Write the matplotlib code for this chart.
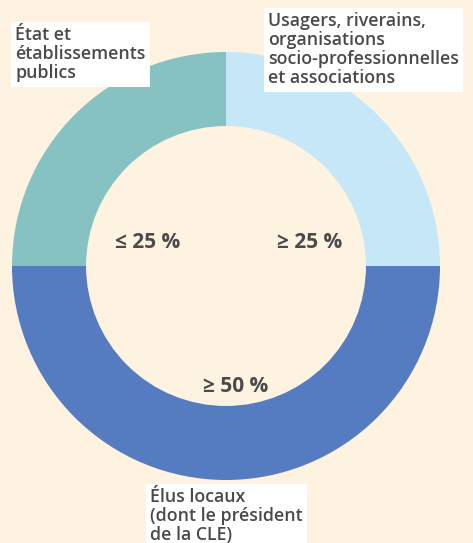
import matplotlib.pyplot as plt

categories = ["Usagers, riverains,\norganisations\nsocio-professionnelles\net associations",
              "État et\nétablissements\npublics",
              "Élus locaux\n(dont le président\nde la CLE)"]
values = [25, 25, 50]
pct_labels = ["≥ 25 %", "≤ 25 %", "≥ 50 %"]
colors = ["#C6E7F8", "#86C2C1", "#557BC0"]

W, H = 473, 543
fig = plt.figure(figsize=(W/100, H/100), dpi=100)
bg = "#FEF3E0"
fig.patch.set_facecolor(bg)
ax = fig.add_axes([0, 0, 1, 1])
ax.set_facecolor(bg)

cx, cy, R = 226, H - 266, 214
ax.pie(values, colors=colors, startangle=0, counterclock=True, center=(cx, cy),
       radius=R, wedgeprops=dict(width=R*0.346, linewidth=0), frame=True)
ax.set_xlim(0, W)
ax.set_ylim(0, H)
ax.set_aspect("equal")
ax.axis("off")

tc = "#4A4A4A"
font = "Open Sans"
pct_pos = [(310, H - 242), (148, H - 242), (236, H - 387)]
for (x, y), t in zip(pct_pos, pct_labels):
    ax.text(x, y, t, ha="center", va="center", fontsize=15, fontweight="bold",
            color=tc, family=font)

box_pos = [(268, H - 12), (15, H - 26), (150, H - 488)]
for (x, y), t in zip(box_pos, categories):
    ax.text(x, y, t, ha="left", va="top", fontsize=12.8, fontweight="semibold",
            color=tc, family=font, linespacing=1.08,
            bbox=dict(boxstyle="square,pad=0.25", fc="white", ec="none"))

fig.savefig("out.png", dpi=100, facecolor=bg)
